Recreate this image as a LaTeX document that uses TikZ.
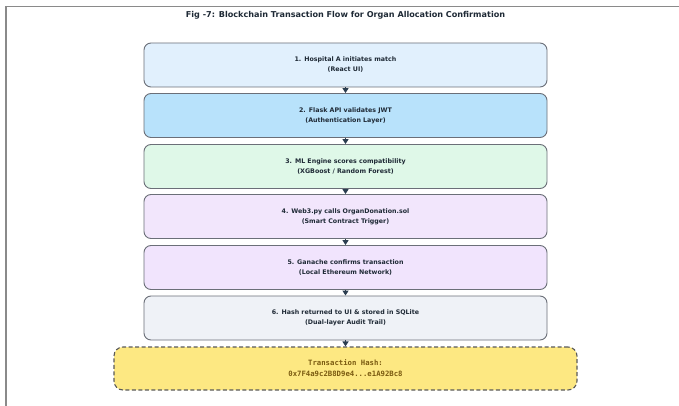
\documentclass[tikz,border=0pt]{standalone}
\usepackage{fontspec}
\setmainfont{DejaVu Sans}
\setmonofont{DejaVu Sans Mono}
\usetikzlibrary{arrows.meta}
\definecolor{bordergray}{HTML}{8A8A8A}
\definecolor{edgegray}{HTML}{6B6F78}
\definecolor{txtdark}{HTML}{1F2A36}
\definecolor{arrowdark}{HTML}{2C3E50}
\definecolor{cA}{HTML}{E1F0FD}
\definecolor{cB}{HTML}{B8E2FB}
\definecolor{cC}{HTML}{DFF8E8}
\definecolor{cD}{HTML}{F2E6FC}
\definecolor{cE}{HTML}{F1E4FD}
\definecolor{cF}{HTML}{EFF2F7}
\definecolor{cHash}{HTML}{FDE882}
\definecolor{hashtxt}{HTML}{7A5A10}
\definecolor{hashedge}{HTML}{5A5A5A}
\tikzset{
  stepbox/.style={draw=edgegray, line width=0.9pt, rounded corners=7pt,
    minimum width=403pt, minimum height=44pt, inner sep=0pt, align=center,
    font=\fontsize{6.3}{10}\selectfont\bfseries, text=txtdark},
  hashbox/.style={draw=hashedge, line width=1.1pt, dash pattern=on 4pt off 2.5pt,
    rounded corners=9pt, fill=cHash, minimum width=463pt, minimum height=43pt,
    inner sep=0pt, align=center, font=\fontsize{7.3}{11}\selectfont\ttfamily\bfseries, text=hashtxt},
  flow/.style={draw=arrowdark, line width=1.3pt, -{Triangle[length=5pt,width=6pt]}}
}
\begin{document}
\begin{tikzpicture}[x=1pt,y=-1pt]
\useasboundingbox (0,0) rectangle (679,406);
\fill[white] (0,0) rectangle (679,406);
\draw[bordergray, line width=1.4pt] (6,406) -- (6,6.5) -- (679,6.5);
\node[font=\fontsize{8.1}{10}\selectfont\bfseries, text=txtdark] (title) at (345.5,15.5) {Fig -7: Blockchain Transaction Flow for Organ Allocation Confirmation};
\node[stepbox, fill=cA] (s1) at (345.5,65) {1. Hospital A initiates match\\(React UI)};
\node[stepbox, fill=cB] (s2) at (345.5,115.5) {2. Flask API validates JWT\\(Authentication Layer)};
\node[stepbox, fill=cC] (s3) at (345.5,166.5) {3. ML Engine scores compatibility\\(XGBoost / Random Forest)};
\node[stepbox, fill=cD] (s4) at (345.5,216.5) {4. Web3.py calls OrganDonation.sol\\(Smart Contract Trigger)};
\node[stepbox, fill=cE] (s5) at (345.5,267.5) {5. Ganache confirms transaction\\(Local Ethereum Network)};
\node[stepbox, fill=cF] (s6) at (345.5,318) {6. Hash returned to UI \& stored in SQLite\\(Dual-layer Audit Trail)};
\node[hashbox] (hash) at (345.5,368.5) {Transaction Hash:\\0x7F4a9c2B8D9e4...e1A92Bc8};
\draw[flow] (s1.south) -- (s2.north);
\draw[flow] (s2.south) -- (s3.north);
\draw[flow] (s3.south) -- (s4.north);
\draw[flow] (s4.south) -- (s5.north);
\draw[flow] (s5.south) -- (s6.north);
\draw[flow] (s6.south) -- (hash.north);
\end{tikzpicture}
\end{document}
